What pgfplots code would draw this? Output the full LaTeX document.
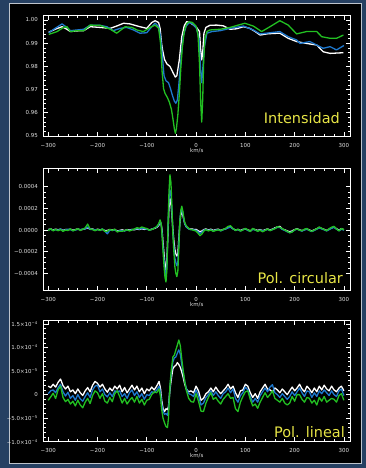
\documentclass[border=0pt]{standalone}
\usepackage{fontspec}
\setmainfont{DejaVu Sans}
\usepackage{pgfplots}
\usepackage{pgfplotstable}
\pgfplotsset{compat=1.18}
\definecolor{frameblue}{RGB}{38,64,98}
\definecolor{framegray}{RGB}{190,196,204}
\definecolor{idlblue}{RGB}{30,120,205}
\definecolor{idlgreen}{RGB}{34,192,34}
\definecolor{labyellow}{RGB}{232,230,70}
\definecolor{ticktext}{RGB}{225,225,225}

% Intensity, white
\pgfplotstableread{
v y
-299 0.9947
-286 0.9960
-272 0.9971
-262 0.9960
-255 0.9950
-242 0.9953
-228 0.9954
-215 0.9971
-195 0.9968
-174 0.9964
-161 0.9974
-147 0.9986
-134 0.9983
-114 0.9971
-100 0.9964
-90 0.9989
-83 0.9997
-76 0.9989
-73 0.9964
-70 0.9900
-68 0.9871
-64 0.9830
-59 0.9810
-53 0.9800
-46 0.9770
-42 0.9754
-39 0.9760
-34 0.9828
-29 0.9928
-24 0.9975
-19 0.9993
-12 0.9988
-5 0.9978
2 0.9965
7 0.9950
9 0.9880
11.5 0.9828
13.5 0.9860
16 0.9943
20 0.9968
28 0.9977
42 0.9978
55 0.9975
69 0.9960
82 0.9962
96 0.9971
109 0.9964
120 0.9950
130 0.9935
143 0.9940
157 0.9942
170 0.9943
187 0.9921
204 0.9907
224 0.9899
245 0.9892
258 0.9863
272 0.9856
299 0.9859
}\intw

% Intensity, blue
\pgfplotstableread{
v y
-299 0.9945
-286 0.9964
-272 0.9983
-262 0.9968
-255 0.9954
-228 0.9960
-215 0.9977
-195 0.9977
-181 0.9971
-168 0.9954
-154 0.9964
-141 0.9968
-127 0.9957
-114 0.9943
-100 0.9945
-90 0.9971
-83 0.9986
-76 0.9971
-72 0.9928
-68 0.9835
-65 0.9760
-61 0.9738
-56 0.9730
-52 0.9705
-48 0.9675
-44 0.9650
-41 0.9641
-38 0.9655
-35 0.9720
-32 0.9800
-29 0.9870
-26 0.9930
-20 0.9974
-14 0.9989
-7 0.9983
1 0.9964
6 0.9920
9 0.9790
11.5 0.9730
14 0.9800
17 0.9885
22 0.9943
32 0.9950
49 0.9954
69 0.9964
96 0.9974
116 0.9957
130 0.9940
150 0.9945
170 0.9950
187 0.9928
204 0.9914
211 0.9899
231 0.9907
245 0.9892
258 0.9878
272 0.9885
285 0.9871
300 0.9890
}\intb

% Intensity, green
\pgfplotstableread{
v y
-299 0.9938
-282 0.9950
-269 0.9968
-262 0.9971
-255 0.9950
-242 0.9954
-228 0.9954
-215 0.9978
-195 0.9977
-174 0.9960
-161 0.9943
-144 0.9971
-130 0.9968
-120 0.9957
-107 0.9950
-93 0.9968
-83 0.9978
-76 0.9964
-72 0.9899
-69 0.9780
-66 0.9705
-63 0.9684
-58 0.9665
-54 0.9645
-50 0.9615
-47 0.9575
-44 0.9530
-42 0.9512
-40 0.9530
-37 0.9590
-34 0.9680
-31 0.9790
-28 0.9880
-24 0.9950
-19 0.9985
-14 0.9992
-8 0.9990
0 0.9974
4 0.9935
7 0.9810
9.5 0.9640
11.5 0.9560
13.5 0.9660
15.5 0.9830
18 0.9920
22 0.9950
28 0.9957
49 0.9960
69 0.9968
99 0.9986
116 0.9974
133 0.9950
150 0.9971
170 0.9997
187 0.9978
204 0.9940
224 0.9950
245 0.9950
255 0.9928
272 0.9921
285 0.9921
299 0.9935
}\intg

% Circular polarization (units of 1e-5): white, blue, green
\pgfplotstableread{
v w b g
-300 0.5 0.0 -0.5
-295 1.0 0.8 1.2
-290 0.0 -0.4 -0.8
-285 0.8 0.4 0.6
-280 0.2 -0.2 -0.6
-275 0.8 1.0 0.4
-270 -0.4 -0.6 -1.2
-265 0.6 0.2 0.0
-260 0.2 0.8 -0.4
-255 0.8 0.4 1.0
-250 -0.2 -0.6 -0.8
-245 0.4 0.0 0.2
-240 1.0 0.6 1.2
-235 0.2 0.4 -0.4
-230 0.6 0.8 0.8
-225 1.2 1.0 2.0
-220 2.0 2.8 5.5
-215 0.8 0.6 1.0
-210 1.0 0.6 0.4
-205 -0.2 0.2 -0.6
-200 0.8 0.4 0.6
-195 0.2 -0.2 -0.4
-190 0.6 1.0 1.0
-185 -0.6 -1.0 -1.4
-180 -0.4 -3.5 -1.0
-175 0.4 0.0 0.6
-170 0.0 -0.4 -0.4
-165 0.6 0.2 0.8
-160 -1.0 -1.4 -1.8
-155 -0.4 -0.6 -1.0
-150 0.2 -0.4 -1.2
-145 -0.6 -0.8 -0.4
-140 0.4 0.0 0.2
-135 0.0 -0.4 -0.8
-130 0.6 0.4 0.0
-125 0.2 0.6 1.0
-120 1.0 1.4 2.2
-115 0.4 0.8 1.6
-110 1.2 1.6 2.8
-105 0.6 1.2 2.0
-100 1.0 0.8 1.4
-95 0.2 0.0 -0.2
-90 0.8 0.6 0.4
-85 1.4 1.8 1.6
-80 2.4 2.6 3.2
-76 4.0 4.6 5.8
-73 7.0 8.0 9.4
-71 6.0 6.0 6.5
-69 0.0 -2.0 -5.0
-67 -12 -16 -20
-65 -22 -27 -33
-63 -33 -39 -44
-61 -37 -44 -48
-59 -25 -30 -35
-57 -3 0 2
-55 20 28 35
-53 29 37 51
-51 25 33 44
-49 14 18 22
-47 0 -2 -5
-45 -10 -15 -20
-43 -18 -26 -34
-41 -22 -30 -40
-39 -24 -33 -43
-37 -22 -30 -38
-35 -8 -12 -18
-33 6 8 7
-31 14 17 18
-29 17 20 22
-27 14 16 18
-25 10 10 12
-23 6 6 7
-20 3 3 4
-16 1.6 1.4 2.0
-12 0.8 0.4 0.6
-8 1.0 0.6 0.2
-4 0.4 0.0 -0.4
0 0.6 -0.2 -1.0
4 -0.6 -1.6 -3.0
8 -1.6 -3.0 -5.2
12 -0.8 -2.0 -3.6
16 0.4 0.0 -0.8
20 1.0 0.6 0.4
25 0.0 -0.4 -0.8
30 0.8 0.2 0.0
35 -0.4 -0.8 -1.2
40 0.4 0.0 -0.4
45 0.8 0.4 0.2
50 -0.4 -0.8 -0.6
55 0.6 0.2 0.4
60 1.2 1.0 1.6
65 2.4 2.0 3.4
70 3.0 2.6 4.0
75 1.2 1.0 1.4
80 0.0 -0.2 -0.4
85 0.6 0.4 0.8
90 -0.4 -0.8 -1.0
95 0.6 0.2 0.0
100 1.0 1.2 1.6
105 0.2 -0.4 0.2
110 -0.8 -1.2 -1.4
115 1.0 0.6 1.6
120 0.4 0.0 0.2
125 -0.4 -0.8 -1.2
130 0.4 0.0 -0.2
135 -0.6 -0.8 -1.6
140 0.2 -0.2 -0.4
145 1.0 0.6 1.0
150 0.0 -0.4 -0.6
155 0.8 0.4 0.4
160 2.0 1.6 1.2
165 2.8 2.4 3.0
170 3.4 2.4 2.6
175 1.0 0.6 1.2
180 0.2 -0.4 0.0
185 -0.8 -1.6 -1.2
190 -1.6 -2.4 -2.6
195 -0.8 -1.6 -1.8
200 0.4 0.0 0.2
205 1.2 0.8 1.0
210 0.2 -0.2 -0.2
215 -0.6 -1.0 -0.6
220 0.4 0.2 0.8
225 1.0 0.6 1.4
230 0.0 -0.4 -0.4
235 -0.8 -1.4 -1.2
240 0.2 -0.4 0.0
245 1.2 0.8 1.2
250 2.4 2.0 2.8
255 1.4 1.0 1.6
260 0.6 0.2 0.4
265 -0.4 -0.8 -0.6
270 0.8 0.4 1.2
275 2.0 1.6 2.6
280 2.8 2.4 3.4
285 1.2 0.8 1.0
290 0.0 -0.6 -0.8
295 1.2 0.6 1.4
300 0.4 0.0 0.2
}\tabcirc

% Linear polarization (units of 1e-5): white, blue, green
\pgfplotstableread{
v w b g
-300 1.8 0.2 -1.2
-295 1.5 0.8 -0.5
-290 2.2 1.0 0.3
-285 1.6 0.4 -0.8
-280 2.6 1.5 1.0
-275 3.3 2.2 1.8
-270 1.9 0.6 -0.6
-265 1.2 -0.3 -1.5
-260 1.8 0.5 -1.0
-255 0.6 -0.8 -2.0
-250 1.0 -0.2 -1.4
-245 0.2 -1.2 -2.4
-240 1.2 0.0 -1.2
-235 0.4 -0.9 -2.2
-230 -0.2 -1.4 -2.8
-225 0.8 -0.4 -1.6
-220 1.5 0.4 -0.8
-215 0.6 -0.6 -1.9
-210 2.0 1.0 -0.2
-205 2.8 1.8 0.8
-200 2.4 2.0 0.4
-195 1.6 0.6 -0.8
-190 2.2 1.2 0.2
-185 1.2 0.0 -1.4
-180 0.5 -0.5 -1.8
-175 1.4 0.4 -0.6
-170 0.8 -0.4 -1.5
-165 1.8 0.8 0.2
-160 1.2 0.6 0.8
-155 2.0 0.8 -0.4
-150 0.6 -0.4 -1.8
-145 1.5 0.2 -0.8
-140 0.4 -0.8 -2.0
-135 1.2 0.4 -1.2
-130 2.0 1.0 -0.6
-125 1.0 -0.2 -1.6
-120 1.8 0.6 -0.4
-115 0.6 -0.6 -1.8
-110 1.4 0.2 -1.0
-105 0.2 -1.0 -2.2
-100 1.2 0.0 -1.2
-95 0.8 -0.2 -1.0
-90 1.6 0.6 0.0
-85 1.0 0.4 0.6
-80 1.8 1.0 0.4
-75 2.8 1.8 1.2
-72 1.2 0.4 -0.5
-70 -1.0 -1.8 -3.0
-67 -3.0 -3.5 -5.0
-64 -3.6 -4.2 -6.0
-61 -3.0 -4.0 -6.8
-58 -3.2 -4.4 -7.0
-56 -2.5 -3.2 -5.0
-53 1.0 1.5 2.0
-50 3.5 4.8 5.5
-47 5.5 7.0 8.0
-44 6.0 7.8 8.4
-41 6.2 8.0 9.5
-38 6.8 8.8 10.5
-35 6.4 9.5 11.6
-32 5.8 8.6 10.4
-29 4.8 6.4 7.6
-26 3.6 4.6 5.0
-23 2.2 2.8 2.8
-20 1.2 1.4 1.0
-15 0.6 0.2 -0.8
-10 0.8 0.0 -1.5
-5 0.4 -0.4 -1.6
0 1.8 1.0 0.2
5 0.8 -0.2 -1.4
10 -1.2 -2.2 -3.5
15 -0.8 -1.8 -3.6
20 0.2 -0.6 -1.8
25 0.6 0.0 -0.6
30 1.4 0.8 0.4
35 0.6 -0.2 -1.0
40 1.6 0.6 -0.6
45 0.8 -0.2 -1.4
50 0.2 -0.8 -2.0
55 0.8 0.2 -1.0
60 1.4 0.6 -0.4
65 2.2 1.4 0.2
70 1.2 0.4 -0.8
75 1.8 1.2 -0.6
80 0.4 -0.8 -3.0
85 -0.6 -1.6 -3.6
90 0.8 -0.2 -1.6
95 1.0 0.4 -0.4
100 2.2 1.6 0.6
105 1.8 1.0 0.8
110 0.4 -0.4 -1.0
115 -0.6 -1.6 -2.4
120 0.2 -0.8 -2.0
125 -0.8 -1.6 -2.9
130 0.6 -0.2 -1.6
135 1.4 0.6 -0.6
140 2.2 1.4 0.4
145 1.2 0.6 -0.6
150 1.0 1.6 0.0
155 0.6 2.1 0.8
160 1.4 0.4 -0.8
165 1.0 0.0 -1.2
170 0.4 -0.6 -1.6
175 1.2 0.2 -0.8
180 0.6 -0.4 -1.8
185 0.0 -1.0 -2.2
190 0.8 -0.4 -1.8
195 1.6 0.6 -0.4
200 0.8 -0.2 -1.4
205 1.4 0.6 0.0
210 2.2 1.4 0.0
215 1.2 0.4 -1.0
220 0.6 -0.4 -1.6
225 1.8 0.8 -0.6
230 1.2 0.6 -0.8
235 0.4 -0.6 -1.8
240 1.4 0.4 -1.2
245 0.6 -0.4 -2.2
250 1.8 0.8 -0.6
255 1.0 0.2 -1.4
260 2.0 1.0 -0.4
265 1.2 0.4 -1.6
270 0.8 -0.2 -1.2
275 1.8 0.8 -0.8
280 1.0 0.0 -1.0
285 0.6 -0.4 -1.6
290 1.4 0.8 -0.2
295 1.8 1.2 0.2
300 0.8 -0.2 -1.2
}\tablin

\pgfplotsset{idl/.style={
  scale only axis, width=307bp,
  xmin=-310, xmax=313,
  axis line style={white, line width=0.8bp},
  tick style={white, line width=0.6bp},
  major tick length=4.5bp, minor tick length=2.5bp,
  tick align=inside,
  xtick pos=both, ytick pos=both,
  xtick={-300,-200,-100,0,100,200,300},
  xticklabels={−300,−200,−100,0,100,200,300},
  minor x tick num=4,
  ticklabel style={font=\fontsize{5.5}{6}\selectfont, text=ticktext},
  xticklabel style={yshift=-3.3bp},
  yticklabel style={xshift=-2bp},
  xlabel={km/s},
  xlabel style={at={(axis description cs:0.5,0)}, anchor=center, yshift=-14bp,
    font=\fontsize{5.5}{6}\selectfont, text=ticktext},
  scaled y ticks=false,
  wline/.style={white, line width=1.3bp, line join=round},
  bline/.style={idlblue, line width=1.3bp, line join=round},
  gline/.style={idlgreen, line width=1.3bp, line join=round},
}}

\begin{document}
\begin{tikzpicture}
\useasboundingbox (0,0) rectangle (366bp,468bp);
\fill[frameblue] (0,0) rectangle (366bp,468bp);
\fill[black, draw=framegray, line width=1bp] (9.5bp,4.5bp) rectangle (361.5bp,464.5bp);

% Panel 1: intensity
\begin{axis}[idl, at={(43.3bp,331.3bp)}, anchor=south west, height=121bp,
  ymin=0.9497, ymax=1.00185,
  ytick={0.95,0.96,0.97,0.98,0.99,1.00},
  yticklabels={0.95,0.96,0.97,0.98,0.99,1.00},
  minor y tick num=4]
\addplot[wline] table[x=v,y=y] {\intw};
\addplot[bline] table[x=v,y=y] {\intb};
\addplot[gline] table[x=v,y=y] {\intg};
\end{axis}

% Panel 2: circular polarization
\begin{axis}[idl, at={(43.3bp,177.3bp)}, anchor=south west, height=122.4bp,
  ymin=-5.6e-4, ymax=5.7e-4,
  ytick={-4e-4,-2e-4,0,2e-4,4e-4},
  yticklabels={−0.0004,−0.0002,0.0000,0.0002,0.0004},
  minor y tick num=3]
\addplot[wline] table[x=v,y expr=\thisrow{w}*1e-5] {\tabcirc};
\addplot[bline] table[x=v,y expr=\thisrow{b}*1e-5] {\tabcirc};
\addplot[gline] table[x=v,y expr=\thisrow{g}*1e-5] {\tabcirc};
\end{axis}

% Panel 3: linear polarization
\begin{axis}[idl, at={(43.3bp,26.3bp)}, anchor=south west, height=121bp,
  ymin=-1.0e-4, ymax=1.57e-4,
  ytick={-1e-4,-5e-5,0,5e-5,1e-4,1.5e-4},
  yticklabels={−1.0×10\textsuperscript{−4},−5.0×10\textsuperscript{−5},0,5.0×10\textsuperscript{−5},1.0×10\textsuperscript{−4},1.5×10\textsuperscript{−4}},
  minor y tick num=4]
\addplot[wline] table[x=v,y expr=\thisrow{w}*1e-5] {\tablin};
\addplot[bline] table[x=v,y expr=\thisrow{b}*1e-5] {\tablin};
\addplot[gline] table[x=v,y expr=\thisrow{g}*1e-5] {\tablin};
\end{axis}

\node[anchor=base east, text=labyellow, font=\fontsize{14.5}{17}\selectfont, inner sep=0] at (340bp,344bp) {Intensidad};
\node[anchor=base east, text=labyellow, font=\fontsize{14.5}{17}\selectfont, inner sep=0] at (343bp,184bp) {Pol. circular};
\node[anchor=base east, text=labyellow, font=\fontsize{14.5}{17}\selectfont, inner sep=0] at (345bp,30.5bp) {Pol. lineal};
\end{tikzpicture}
\end{document}
